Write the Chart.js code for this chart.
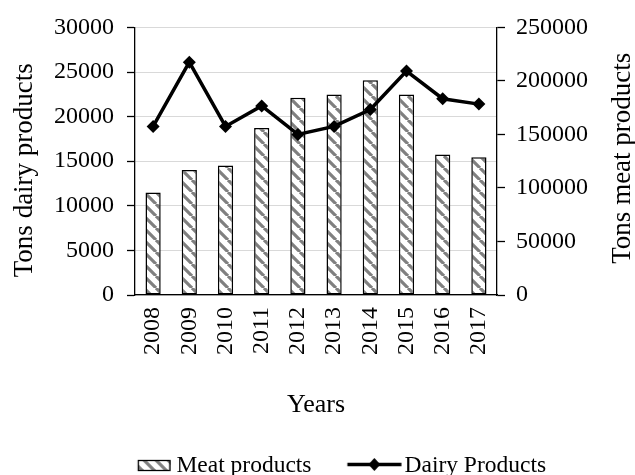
<!DOCTYPE html>
<html>
<head>
<meta charset="utf-8">
<script src="https://cdn.jsdelivr.net/npm/chart.js@4"></script>
<style>
    html, body { margin: 0; padding: 0; background: #fff; }
</style>
</head>
<body>
<canvas id="chart" width="635" height="475"></canvas>
<script>
const years = ['2008', '2009', '2010', '2011', '2012', '2013', '2014', '2015', '2016', '2017'];
const meatTons = [95700, 116700, 121000, 155900, 184300, 187300, 200600, 187300, 131200, 128700];
const dairyTons = [18900, 26100, 18900, 21200, 18000, 18900, 20800, 25100, 22000, 21400];
const dairyTicks = [0, 5000, 10000, 15000, 20000, 25000, 30000];
const meatTicks = [0, 50000, 100000, 150000, 200000, 250000];
const dairyTitle = 'Tons dairy products';
const meatTitle = 'Tons meat products';

const serif = "'Liberation Serif', 'Times New Roman', serif";

function hatchPattern(ctx) {
    const c = document.createElement('canvas');
    c.width = 12; c.height = 12;
    const g = c.getContext('2d');
    g.fillStyle = '#fff';
    g.fillRect(0, 0, 12, 12);
    g.strokeStyle = '#808080';
    g.lineWidth = 3.2;
    g.beginPath();
    [-12, 0, 12].forEach(function(o) {
        g.moveTo(o, 0);
        g.lineTo(o + 12, 12);
    });
    g.stroke();
    return ctx.createPattern(c, 'repeat');
}

// legend icons (drawn off-screen, handed to the legend as point styles)
function meatIcon() {
    const c = document.createElement('canvas');
    c.width = 88; c.height = 14;
    const g = c.getContext('2d');
    g.fillStyle = hatchPattern(g);
    g.fillRect(55.5, 1.5, 32, 10);
    g.strokeStyle = '#000';
    g.lineWidth = 1.3;
    g.strokeRect(55.5, 1.5, 31.5, 10);
    return c;
}

function dairyIcon() {
    const c = document.createElement('canvas');
    c.width = 94; c.height = 16;
    const g = c.getContext('2d');
    g.strokeStyle = '#000';
    g.lineWidth = 3.5;
    g.beginPath();
    g.moveTo(39.5, 6.5);
    g.lineTo(93.5, 6.5);
    g.stroke();
    g.fillStyle = '#000';
    g.beginPath();
    g.moveTo(66.5, 0); g.lineTo(72.5, 6.5); g.lineTo(66.5, 13); g.lineTo(60.5, 6.5);
    g.closePath();
    g.fill();
    return c;
}

// both axis titles read bottom-to-top in the original, so they are drawn here
const axisTitles = {
    id: 'axisTitles',
    afterDraw: function(chart) {
        const c = chart.ctx;
        const a = chart.chartArea;
        c.save();
        c.fillStyle = '#000';
        c.font = "27px " + serif;
        c.textAlign = 'center';
        c.textBaseline = 'middle';
        [[dairyTitle, 25, a.top + (a.bottom - a.top) / 2 + 9],
         [meatTitle, 622.5, a.top + (a.bottom - a.top) / 2 - 3]].forEach(function(t) {
            c.save();
            c.translate(t[1], t[2]);
            c.rotate(-Math.PI / 2);
            c.fillText(t[0], 0, 0);
            c.restore();
        });
        c.restore();
    }
};

const canvas = document.getElementById('chart');
const ctx = canvas.getContext('2d');

new Chart(ctx, {
    type: 'bar',
    data: {
        labels: years,
        datasets: [{
            type: 'bar',
            label: 'Meat products',
            data: meatTons,
            yAxisID: 'y1',
            backgroundColor: hatchPattern(ctx),
            borderColor: '#000',
            borderWidth: 1.5,
            borderSkipped: false,
            categoryPercentage: 1,
            barPercentage: 0.42,
            order: 2
        }, {
            type: 'line',
            label: 'Dairy Products',
            data: dairyTons,
            yAxisID: 'y',
            borderColor: '#000',
            borderWidth: 3.5,
            tension: 0,
            pointStyle: 'rectRot',
            pointRadius: 6.5,
            pointBackgroundColor: '#000',
            pointBorderColor: '#000',
            pointBorderWidth: 0,
            order: 1
        }]
    },
    plugins: [axisTitles],
    options: {
        responsive: false,
        animation: false,
        layout: {
            padding: { top: 25, left: 0, right: 0, bottom: -12.75 }
        },
        plugins: {
            tooltip: { enabled: false },
            legend: {
                position: 'bottom',
                labels: {
                    usePointStyle: true,
                    pointStyleWidth: 75.75,
                    padding: 5.5,
                    color: '#000',
                    font: { family: serif, size: 23.5 },
                    generateLabels: function(chart) {
                        const icons = [meatIcon(), dairyIcon()];
                        return chart.data.datasets.map(function(ds, i) {
                            return {
                                text: ds.label,
                                datasetIndex: i,
                                pointStyle: icons[i],
                                fillStyle: 'transparent',
                                strokeStyle: 'transparent',
                                lineWidth: 0,
                                fontColor: '#000',
                                hidden: false
                            };
                        });
                    }
                }
            }
        },
        scales: {
            x: {
                grid: { display: false, drawTicks: false },
                border: { color: '#000', width: 1.3 },
                ticks: {
                    color: '#000',
                    font: { family: serif, size: 24 },
                    minRotation: 90,
                    maxRotation: 90,
                    autoSkip: false,
                    padding: 12
                },
                title: {
                    display: true,
                    text: 'Years',
                    color: '#000',
                    font: { family: serif, size: 26 },
                    padding: { top: 0, bottom: 28.15 }
                },
                afterFit: function(s) { s.height = 153.75; }
            },
            y: {
                position: 'left',
                min: dairyTicks[0],
                max: dairyTicks[dairyTicks.length - 1],
                afterBuildTicks: function(s) { s.ticks = dairyTicks.map(v => ({ value: v })); },
                grid: { color: '#d9d9d9', lineWidth: 1, tickColor: '#000', tickLength: 8, tickWidth: 1.3 },
                border: { color: '#000', width: 1.3 },
                ticks: {
                    color: '#000',
                    font: { family: serif, size: 24 },
                    padding: 13,
                    callback: function(value) { return String(value); }
                },
                afterFit: function(s) { s.width = 135; }
            },
            y1: {
                position: 'right',
                min: meatTicks[0],
                max: meatTicks[meatTicks.length - 1],
                afterBuildTicks: function(s) { s.ticks = meatTicks.map(v => ({ value: v })); },
                grid: { drawOnChartArea: false, tickColor: '#000', tickLength: 8, tickWidth: 1.3 },
                border: { color: '#000', width: 1.3 },
                ticks: {
                    color: '#000',
                    font: { family: serif, size: 24 },
                    padding: 11,
                    callback: function(value) { return String(value); }
                },
                afterFit: function(s) { s.width = 138; }
            }
        }
    }
});
</script>
</body>
</html>
